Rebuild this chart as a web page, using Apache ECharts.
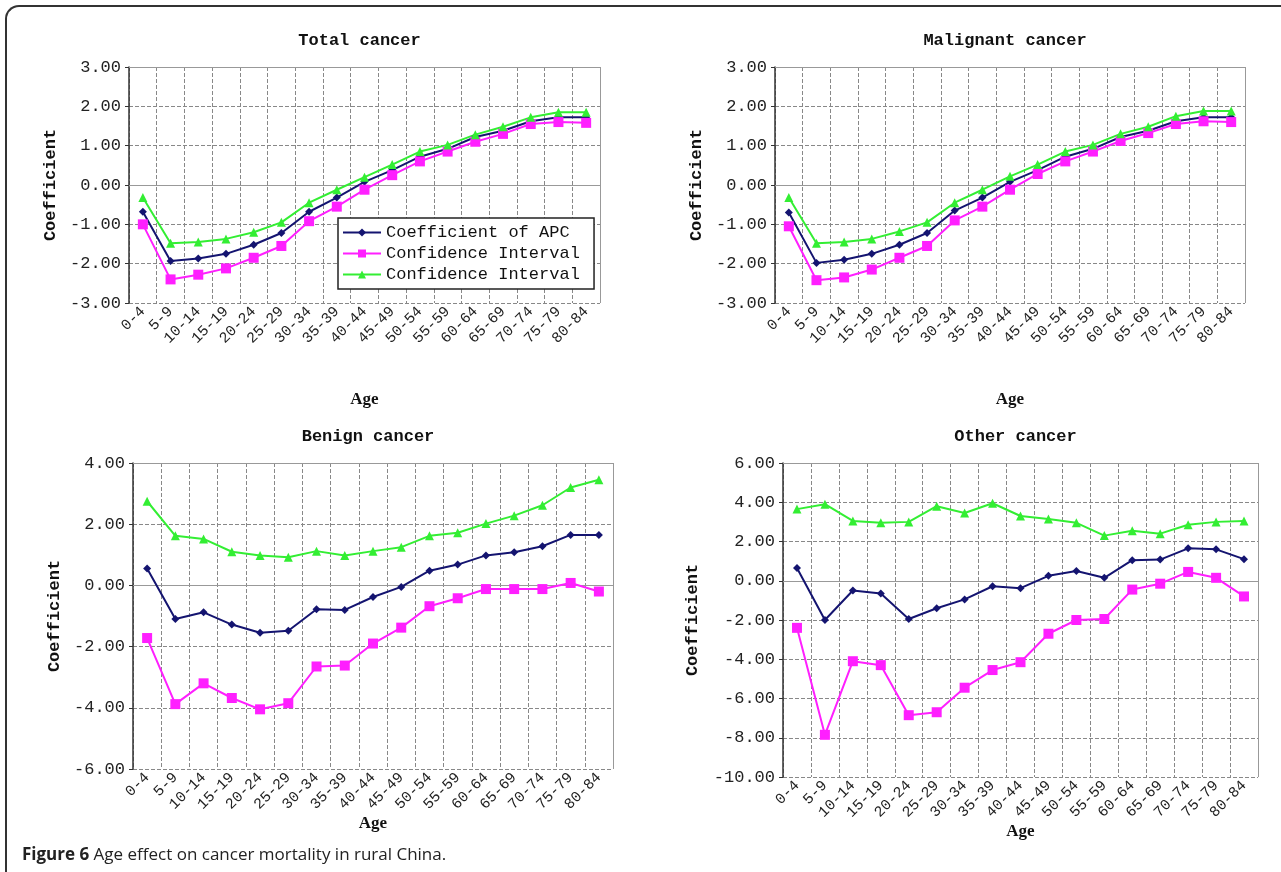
<!DOCTYPE html>
<html>
<head>
<meta charset="utf-8">
<script src="https://cdn.jsdelivr.net/npm/echarts@6/dist/echarts.min.js"></script>
<style>
  body { margin:0; background:#fff; }
  #frame { position:absolute; left:5px; top:5px; width:1290px; height:880px;
    border-left:2px solid #333; border-top:2px solid #333; border-top-left-radius:14px; }
  #main { position:absolute; left:0; top:0; width:1281px; height:872px; }
  #cap { position:absolute; left:22px; top:842px; font-family:"Open Sans",sans-serif; font-size:17px; color:#222; }
</style>
</head>
<body>
<div id="frame"></div>
<div id="main"></div>
<div id="cap"><b>Figure 6</b> Age effect on cancer mortality in rural China.</div>
<script>
var ages = ['0-4','5-9','10-14','15-19','20-24','25-29','30-34','35-39','40-44','45-49','50-54','55-59','60-64','65-69','70-74','75-79','80-84'];

var totalCoef  = [-0.68,-1.93,-1.87,-1.75,-1.52,-1.22,-0.68,-0.32,0.08,0.38,0.72,0.92,1.22,1.38,1.62,1.72,1.72];
var totalLow   = [-1.0,-2.4,-2.28,-2.12,-1.85,-1.55,-0.92,-0.55,-0.12,0.25,0.6,0.85,1.1,1.3,1.55,1.6,1.58];
var totalHigh  = [-0.32,-1.48,-1.45,-1.37,-1.2,-0.95,-0.45,-0.12,0.2,0.52,0.85,1.02,1.28,1.48,1.72,1.85,1.85];

var maligCoef  = [-0.7,-1.98,-1.9,-1.75,-1.52,-1.22,-0.65,-0.32,0.08,0.38,0.72,0.92,1.22,1.38,1.62,1.72,1.72];
var maligLow   = [-1.05,-2.42,-2.35,-2.15,-1.85,-1.55,-0.9,-0.55,-0.12,0.28,0.6,0.85,1.12,1.32,1.55,1.62,1.6];
var maligHigh  = [-0.32,-1.48,-1.45,-1.37,-1.18,-0.95,-0.45,-0.12,0.22,0.52,0.85,1.02,1.3,1.48,1.75,1.88,1.88];

var benignCoef = [0.55,-1.1,-0.88,-1.28,-1.55,-1.48,-0.78,-0.8,-0.38,-0.05,0.48,0.68,0.98,1.08,1.28,1.65,1.65];
var benignLow  = [-1.72,-3.88,-3.2,-3.68,-4.05,-3.85,-2.65,-2.62,-1.9,-1.38,-0.68,-0.42,-0.12,-0.12,-0.12,0.08,-0.2];
var benignHigh = [2.75,1.62,1.52,1.1,0.98,0.92,1.12,0.98,1.12,1.25,1.62,1.72,2.02,2.28,2.62,3.2,3.45];

var otherCoef  = [0.65,-2.0,-0.5,-0.65,-1.95,-1.4,-0.95,-0.28,-0.38,0.25,0.5,0.15,1.05,1.08,1.65,1.6,1.1];
var otherLow   = [-2.4,-7.85,-4.1,-4.3,-6.85,-6.7,-5.45,-4.55,-4.15,-2.7,-2.0,-1.95,-0.45,-0.15,0.45,0.15,-0.8];
var otherHigh  = [3.65,3.9,3.05,2.95,3.0,3.8,3.45,3.95,3.3,3.15,2.95,2.3,2.55,2.4,2.85,3.0,3.05];

var panels = [
  {title:'Total cancer',     data:[totalCoef,totalLow,totalHigh],   min:-3, max:3, step:1, box:[129,67,600,303], ageGap:88},
  {title:'Malignant cancer', data:[maligCoef,maligLow,maligHigh],   min:-3, max:3, step:1, box:[775,67,1245,303], ageGap:88},
  {title:'Benign cancer',    data:[benignCoef,benignLow,benignHigh],min:-6, max:4, step:2, box:[133,463,613,769], ageGap:42},
  {title:'Other cancer',     data:[otherCoef,otherLow,otherHigh],   min:-10,max:6, step:2, box:[783,463,1258,777], ageGap:34}
];

var names = ['Coefficient of APC','Confidence Interval','Confidence Interval '];
var colors = ['#141470','#ff1fff','#33ee33'];
var symbols = ['diamond','rect','triangle'];
var sizes = [8,10,9];
var mono = '"Liberation Mono", "DejaVu Sans Mono", monospace';
var serif = '"Liberation Serif", "DejaVu Serif", serif';

var option = {grid:[], xAxis:[], yAxis:[], series:[], title:[], animation:false,
  legend:{data:names, orient:'vertical', left:338, top:218, width:260, itemGap:4,
    itemWidth:38, itemHeight:10, backgroundColor:'#fff', borderColor:'#222', borderWidth:1.5,
    padding:[6,4,6,4], textStyle:{fontFamily:mono, fontSize:17, color:'#111'}}};

panels.forEach(function(p, i){
  var b = p.box;
  option.grid.push({left:b[0], top:b[1], width:b[2]-b[0], height:b[3]-b[1]});
  option.title.push({text:p.title, left:(b[0]+b[2])/2 - 10, top:b[1]-40, textAlign:'center',
    textStyle:{fontFamily:mono, fontSize:17, fontWeight:'bold', color:'#111'}});
  option.xAxis.push({type:'category', gridIndex:i, data:ages, boundaryGap:true,
    name:'Age', nameLocation:'middle', nameGap:p.ageGap,
    nameTextStyle:{fontFamily:serif, fontSize:17, fontWeight:'bold', color:'#111'},
    axisLine:{lineStyle:{color:'#999'}}, axisTick:{show:false},
    axisLabel:{rotate:45, interval:0, fontFamily:mono, fontSize:15, color:'#222', margin:6},
    splitLine:{show:true, lineStyle:{type:'dashed', color:'#888'}}});
  option.yAxis.push({type:'value', gridIndex:i, min:p.min, max:p.max, interval:p.step,
    name:'Coefficient', nameLocation:'middle', nameGap:i==3 ? 82 : 70,
    nameTextStyle:{fontFamily:mono, fontSize:17, fontWeight:'bold', color:'#111'},
    axisLine:{show:true, lineStyle:{color:'#333', width:1.5}},
    axisTick:{show:true, length:4, lineStyle:{color:'#333'}},
    axisLabel:{fontFamily:mono, fontSize:17, color:'#222', formatter:function(v){return v.toFixed(2);}},
    splitLine:{show:true, lineStyle:{type:'dashed', color:'#888'}}});
  // right and top frame lines
  option.series.push({type:'line', xAxisIndex:i, yAxisIndex:i, data:[], silent:true,
    markLine:{silent:true, symbol:'none', label:{show:false}, lineStyle:{color:'#999', type:'solid', width:1},
      data:[[{x:b[0], y:b[1]},{x:b[2], y:b[1]}],
            [{x:b[2], y:b[1]},{x:b[2], y:b[3]}]]}});
  p.data.forEach(function(d, k){
    option.series.push({type:'line', name:names[k], xAxisIndex:i, yAxisIndex:i, data:d,
      symbol:symbols[k], symbolSize:sizes[k], color:colors[k],
      lineStyle:{width:2, color:colors[k]}, itemStyle:{color:colors[k]}});
  });
});

var chart = echarts.init(document.getElementById('main'));
chart.setOption(option);
</script>
</body>
</html>
